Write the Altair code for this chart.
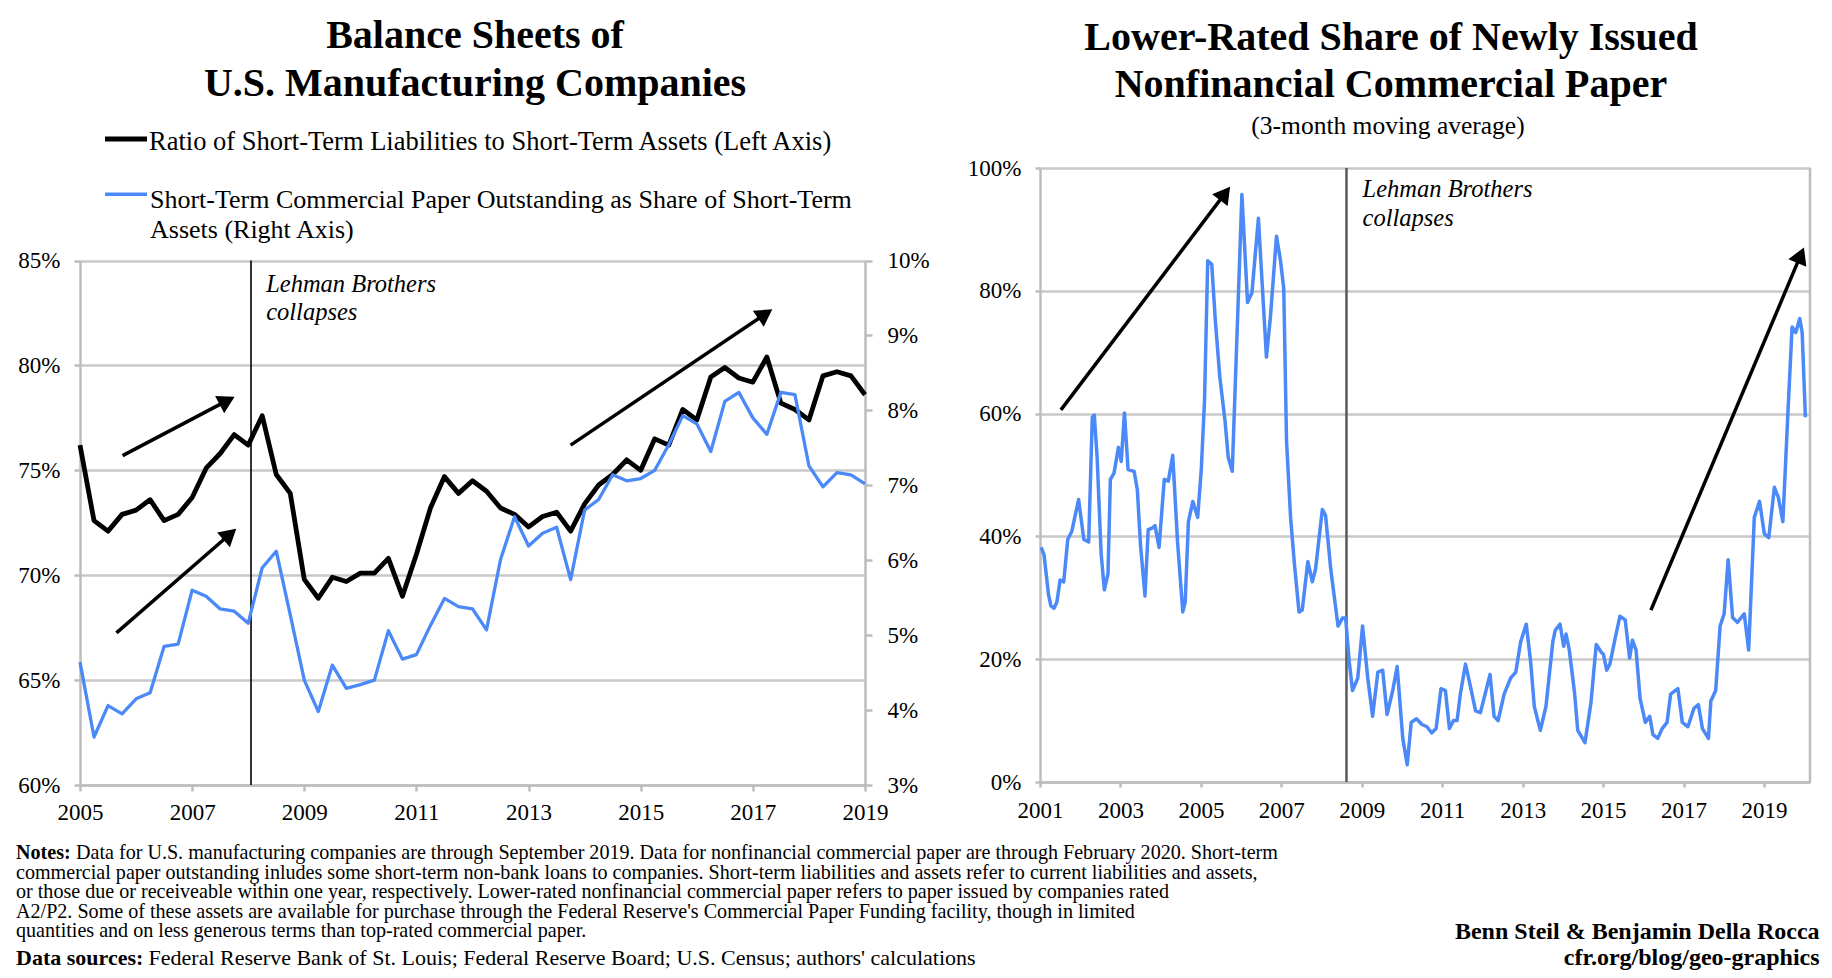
import math
import altair as alt
import pandas as pd

FONT = "Liberation Serif"
BLUE = "#4A89F7"
GRAY = "#bdbdbd"
GRID = "#c8c8c8"

# ---------------- Left panel data (quarterly) ----------------
quarters = [2005.00, 2005.25, 2005.50, 2005.75, 2006.00, 2006.25, 2006.50, 2006.75,
            2007.00, 2007.25, 2007.50, 2007.75, 2008.00, 2008.25, 2008.50, 2008.75,
            2009.00, 2009.25, 2009.50, 2009.75, 2010.00, 2010.25, 2010.50, 2010.75,
            2011.00, 2011.25, 2011.50, 2011.75, 2012.00, 2012.25, 2012.50, 2012.75,
            2013.00, 2013.25, 2013.50, 2013.75, 2014.00, 2014.25, 2014.50, 2014.75,
            2015.00, 2015.25, 2015.50, 2015.75, 2016.00, 2016.25, 2016.50, 2016.75,
            2017.00, 2017.25, 2017.50, 2017.75, 2018.00, 2018.25, 2018.50, 2018.75,
            2019.00]
liab_ratio = [76.2, 72.6, 72.1, 72.9, 73.1, 73.6, 72.6, 72.9, 73.7, 75.1,
              75.8, 76.7, 76.2, 77.6, 74.8, 73.9, 69.8, 68.9, 69.9, 69.7,
              70.1, 70.1, 70.8, 69.0, 71.0, 73.2, 74.7, 73.9, 74.5, 74.0,
              73.2, 72.9, 72.3, 72.8, 73.0, 72.1, 73.4, 74.3, 74.8, 75.5,
              75.0, 76.5, 76.2, 77.9, 77.4, 79.45, 79.9, 79.4, 79.2, 80.4,
              78.2, 77.9, 77.4, 79.5, 79.7, 79.5, 78.6]
cp_share = [4.64, 3.64, 4.06, 3.95, 4.15, 4.23, 4.85, 4.88, 5.60, 5.52,
            5.35, 5.32, 5.16, 5.90, 6.12, 5.27, 4.40, 3.98, 4.60, 4.29,
            4.34, 4.40, 5.06, 4.68, 4.74, 5.13, 5.49, 5.38, 5.35, 5.07,
            6.01, 6.58, 6.19, 6.36, 6.44, 5.74, 6.67, 6.81, 7.14, 7.06,
            7.09, 7.20, 7.54, 7.93, 7.82, 7.45, 8.12, 8.24, 7.90, 7.68,
            8.24, 8.21, 7.26, 6.98, 7.17, 7.14, 7.02]

# ---------------- Right panel data (3-month moving average) ----------------
lr_dates = [2001.03, 2001.10, 2001.21, 2001.27, 2001.35, 2001.42, 2001.50, 2001.59, 2001.69, 2001.79,
            2001.96, 2002.09, 2002.21, 2002.30, 2002.35, 2002.42, 2002.52, 2002.60, 2002.69, 2002.75,
            2002.84, 2002.90, 2002.95, 2003.02, 2003.10, 2003.19, 2003.34, 2003.42, 2003.50, 2003.61,
            2003.69, 2003.80, 2003.86, 2003.96, 2004.09, 2004.19, 2004.30, 2004.42, 2004.55, 2004.61,
            2004.69, 2004.80, 2004.92, 2005.01, 2005.09, 2005.17, 2005.27, 2005.36, 2005.47, 2005.60,
            2005.68, 2005.78, 2006.02, 2006.16, 2006.27, 2006.43, 2006.63, 2006.73, 2006.88, 2006.98,
            2007.06, 2007.13, 2007.23, 2007.33, 2007.44, 2007.52, 2007.66, 2007.77, 2007.85, 2008.02,
            2008.10, 2008.23, 2008.41, 2008.52, 2008.60, 2008.69, 2008.77, 2008.90, 2009.02, 2009.15,
            2009.27, 2009.40, 2009.52, 2009.63, 2009.77, 2009.88, 2010.02, 2010.13, 2010.23, 2010.36,
            2010.49, 2010.62, 2010.74, 2010.85, 2010.97, 2011.08, 2011.18, 2011.28, 2011.37, 2011.45,
            2011.58, 2011.70, 2011.83, 2011.95, 2012.19, 2012.29, 2012.39, 2012.54, 2012.70, 2012.83,
            2012.95, 2013.09, 2013.20, 2013.29, 2013.44, 2013.58, 2013.75, 2013.81, 2013.93, 2014.02,
            2014.08, 2014.16, 2014.29, 2014.37, 2014.55, 2014.70, 2014.83, 2014.96, 2015.01, 2015.09,
            2015.17, 2015.30, 2015.42, 2015.55, 2015.66, 2015.73, 2015.82, 2015.92, 2016.05, 2016.16,
            2016.24, 2016.36, 2016.47, 2016.59, 2016.68, 2016.86, 2016.97, 2017.11, 2017.26, 2017.37,
            2017.47, 2017.62, 2017.68, 2017.80, 2017.91, 2018.01, 2018.11, 2018.22, 2018.34, 2018.51,
            2018.62, 2018.76, 2018.89, 2019.01, 2019.12, 2019.26, 2019.36, 2019.47, 2019.60, 2019.70,
            2019.79, 2019.89, 2019.95, 2020.03]
lr_share = [38.2, 37.0, 30.6, 28.7, 28.3, 29.3, 32.9, 32.6, 39.5, 40.8,
            46.0, 39.5, 39.1, 59.4, 59.75, 52.9, 37.2, 31.3, 33.9, 49.3,
            50.3, 52.6, 54.5, 52.2, 60.1, 50.9, 50.6, 47.6, 38.5, 30.3,
            41.1, 41.4, 41.75, 38.2, 49.3, 49.0, 53.2, 39.1, 27.7, 29.3,
            42.4, 45.7, 43.1, 50.9, 62.0, 84.9, 84.3, 75.1, 66.0, 58.8,
            52.9, 50.6, 95.7, 78.1, 79.7, 91.8, 69.2, 75.8, 88.9, 84.9,
            80.4, 55.5, 43.1, 35.2, 27.7, 28.0, 35.9, 32.6, 34.6, 44.4,
            43.4, 34.6, 25.4, 26.7, 26.7, 19.5, 14.9, 16.9, 25.4, 16.9,
            10.7, 17.9, 18.2, 11.0, 14.9, 18.8, 7.1, 2.8, 9.7, 10.3,
            9.4, 9.0, 8.0, 8.7, 15.2, 14.9, 8.7, 10.0, 10.0, 14.3,
            19.2, 15.6, 11.6, 11.3, 17.5, 10.7, 10.0, 14.3, 16.9, 17.9,
            22.8, 25.7, 19.5, 12.3, 8.4, 12.3, 22.8, 24.7, 25.7, 22.1,
            24.1, 21.5, 14.6, 8.4, 6.4, 13.0, 22.4, 21.1, 20.8, 18.2,
            19.2, 23.4, 27.0, 26.4, 20.2, 23.1, 21.5, 13.6, 9.7, 10.7,
            7.7, 7.1, 8.7, 9.7, 14.3, 15.2, 9.7, 9.0, 12.0, 12.6,
            8.7, 7.1, 13.2, 14.9, 25.4, 27.4, 36.2, 26.8, 26.0, 27.4,
            21.5, 43.1, 45.7, 40.4, 39.8, 48.0, 46.3, 42.4, 60.7, 74.1,
            73.2, 75.5, 73.2, 59.4]

left_years_ticks = [2005, 2007, 2009, 2011, 2013, 2015, 2017, 2019]
right_years_ticks = [2001, 2003, 2005, 2007, 2009, 2011, 2013, 2015, 2017, 2019]
left_pct_ticks = [60, 65, 70, 75, 80, 85]
right_pct_ticks = [3, 4, 5, 6, 7, 8, 9, 10]
lr_pct_ticks = [0, 20, 40, 60, 80, 100]

lehman_left = 2008.05
lehman_right = 2008.62

# arrows: start (year, value) -> tip (year, value)
left_arrows = [((2005.76, 75.7), (2007.75, 78.5)),
               ((2005.65, 67.25), (2007.78, 72.2)),
               ((2013.75, 76.2), (2017.34, 82.66))]
right_arrows = [((2001.52, 60.6), (2005.72, 96.9)),
                ((2016.19, 28.0), (2019.99, 87.0))]

notes_lines = [
    "Data for U.S. manufacturing companies are through September 2019. Data for nonfinancial commercial paper are through February 2020. Short-term",
    "commercial paper outstanding inludes some short-term non-bank loans to companies. Short-term liabilities and assets refer to current liabilities and assets,",
    "or those due or receiveable within one year, respectively. Lower-rated nonfinancial commercial paper refers to paper issued by companies rated",
    "A2/P2. Some of these assets are available for purchase through the Federal Reserve's Commercial Paper Funding facility, though in limited",
    "quantities and on less generous terms than top-rated commercial paper.",
]
sources_line = "Federal Reserve Bank of St. Louis; Federal Reserve Board; U.S. Census; authors' calculations"

# ---------------- geometry ----------------
LW, LH = 785, 617
L_TOP = 92.5
RW, RH = 770, 614
L_DOM = [2005, 2019]
R_DOM = [2001, 2020.145]

one = pd.DataFrame({"k": [0]})


def txt(s, x, y, size, weight="normal", style="normal", align="left"):
    return alt.Chart(one).mark_text(
        text=s, font=FONT, fontSize=size, fontWeight=weight, fontStyle=style,
        align=align, baseline="middle", color="black"
    ).encode(x=alt.value(x), y=alt.value(y))


def arrow_frames(arrows, ppx, ppy, vname):
    rows, heads = [], []
    for (x0, y0), (x1, y1) in arrows:
        dxp = (x1 - x0) * ppx
        dyp = (y1 - y0) * ppy
        ln = math.hypot(dxp, dyp)
        ang = math.degrees(math.atan2(dxp, dyp)) % 360
        back = 8.0
        hx = x1 - back * dxp / ln / ppx
        hy = y1 - back * dyp / ln / ppy
        rows.append({"t": x0, vname: y0, "t2": hx, vname + "2": hy})
        heads.append({"t": hx, vname: hy, "ang": ang})
    return pd.DataFrame(rows), pd.DataFrame(heads)


def arrows_layer(arrows, ppx, ppy, vname, xs, ys):
    rdf, hdf = arrow_frames(arrows, ppx, ppy, vname)
    shafts = alt.Chart(rdf).mark_rule(color="black", strokeWidth=3.5).encode(
        x=alt.X("t:Q", scale=xs), x2="t2:Q",
        y=alt.Y(f"{vname}:Q", scale=ys), y2=f"{vname}2:Q")
    heads = alt.Chart(hdf).mark_point(shape="triangle-up", filled=True, color="black",
                                      opacity=1, size=380, strokeWidth=0).encode(
        x=alt.X("t:Q", scale=xs), y=alt.Y(f"{vname}:Q", scale=ys),
        angle=alt.Angle("ang:Q", scale=None))
    return [shafts, heads]


def italic(s, x, y):
    return alt.Chart(one).mark_text(text=s, font=FONT, fontSize=24.5, fontStyle="italic",
                                    align="left", baseline="middle", color="black").encode(
        x=alt.datum(x), y=alt.datum(y))


# ---------------- Left panel ----------------
left_df = pd.DataFrame({"t": quarters, "ratio": liab_ratio, "cp": cp_share})

xs_l = alt.Scale(domain=L_DOM, nice=False, zero=False)
ys_l = alt.Scale(domain=[60, 85], range=[LH, L_TOP], nice=False, zero=False)
ys_r = alt.Scale(domain=[3, 10], range=[LH, L_TOP], nice=False, zero=False)

x_left = alt.X("t:Q", scale=xs_l,
               axis=alt.Axis(values=left_years_ticks, format="d", title=None, grid=False,
                             tickSize=6, labelPadding=10))

black_line = alt.Chart(left_df).mark_line(color="black", strokeWidth=4.8, strokeJoin="round").encode(
    x=x_left,
    y=alt.Y("ratio:Q", scale=ys_l,
            axis=alt.Axis(values=left_pct_ticks, labelExpr="datum.value + '%'", title=None,
                          grid=True, tickSize=6, labelPadding=14, orient="left")))

lehman_l = alt.Chart(one).mark_rule(color="black", strokeWidth=1.6).encode(
    x=alt.datum(lehman_left), y=alt.datum(60), y2=alt.datum(85))

ppx_l = LW / (L_DOM[1] - L_DOM[0])
ppy_l = (LH - L_TOP) / 25.0
left_arrow_layers = arrows_layer(left_arrows, ppx_l, ppy_l, "ratio", xs_l, ys_l)

left_inner = alt.layer(lehman_l, black_line,
                       italic("Lehman Brothers", 2008.32, 83.83),
                       italic("collapses", 2008.32, 82.5),
                       *left_arrow_layers)

blue_line = alt.Chart(left_df).mark_line(color=BLUE, strokeWidth=3.3, strokeJoin="round").encode(
    x=x_left,
    y=alt.Y("cp:Q", scale=ys_r,
            axis=alt.Axis(values=right_pct_ticks, labelExpr="datum.value + '%'", title=None,
                          grid=False, tickSize=7, labelPadding=15, orient="right")))

# texts / legend / notes positioned relative to the left plot
anchor = alt.Chart(one).mark_rule(strokeOpacity=0, color="white").encode(
    x=alt.value(-72), x2=alt.value(-72), y=alt.value(-160), y2=alt.value(-150))

left_title1 = txt("Balance Sheets of", 395, -132, 40, weight="bold", align="center")
left_title2 = txt("U.S. Manufacturing Companies", 395, -84, 40, weight="bold", align="center")

leg_black = alt.Chart(one).mark_rule(color="black", strokeWidth=5).encode(
    x=alt.value(25), x2=alt.value(67), y=alt.value(-29))
leg_black_t = txt("Ratio of Short-Term Liabilities to Short-Term Assets (Left Axis)", 69, -26.5, 26.5)
leg_blue = alt.Chart(one).mark_rule(color=BLUE, strokeWidth=3.5).encode(
    x=alt.value(25), x2=alt.value(67), y=alt.value(26.3))
leg_blue_t1 = txt("Short-Term Commercial Paper Outstanding as Share of Short-Term", 70, 32, 26)
leg_blue_t2 = txt("Assets (Right Axis)", 70, 62, 26)

NOTE_FS = 20.1
SRC_FS = 22
note_ys = [685, 704.5, 724, 743.5, 763]
notes = [txt("Notes:", -64, note_ys[0], NOTE_FS, weight="bold"),
         txt(notes_lines[0], -4, note_ys[0], NOTE_FS)]
for i in range(1, 5):
    notes.append(txt(notes_lines[i], -64, note_ys[i], NOTE_FS))
notes.append(txt("Data sources:", -64, 790, SRC_FS, weight="bold"))
notes.append(txt(sources_line, 68.6, 790, SRC_FS))

left_chart = alt.layer(
    left_inner, blue_line,
    anchor, left_title1, left_title2,
    leg_black, leg_black_t, leg_blue, leg_blue_t1, leg_blue_t2,
    *notes
).resolve_scale(y="independent").properties(width=LW, height=LH)

# ---------------- Right panel ----------------
right_df = pd.DataFrame({"t": lr_dates, "share": lr_share})
xs_rr = alt.Scale(domain=R_DOM, nice=False, zero=False)
ys_rr = alt.Scale(domain=[0, 100], nice=False, zero=False)

lr_line = alt.Chart(right_df).mark_line(color=BLUE, strokeWidth=3.5, strokeJoin="round").encode(
    x=alt.X("t:Q", scale=xs_rr,
            axis=alt.Axis(values=right_years_ticks, format="d", title=None, grid=False,
                          tickSize=5, labelPadding=12)),
    y=alt.Y("share:Q", scale=ys_rr,
            axis=alt.Axis(values=lr_pct_ticks, labelExpr="datum.value + '%'", title=None,
                          grid=True, tickSize=5, labelPadding=14)))

lehman_r = alt.Chart(one).mark_rule(color="#5a5a5a", strokeWidth=2.5).encode(
    x=alt.datum(lehman_right), y=alt.datum(0), y2=alt.datum(100))
border_r = alt.Chart(one).mark_rule(color=GRAY, strokeWidth=2.5).encode(
    x=alt.datum(R_DOM[1]), y=alt.datum(0), y2=alt.datum(100))

ppx_r = RW / (R_DOM[1] - R_DOM[0])
ppy_r = RH / 100.0
right_arrow_layers = arrows_layer(right_arrows, ppx_r, ppy_r, "share", xs_rr, ys_rr)

right_title1 = txt("Lower-Rated Share of Newly Issued", 351, -130, 40, weight="bold", align="center")
right_title2 = txt("Nonfinancial Commercial Paper", 351, -83, 40, weight="bold", align="center")
right_sub = txt("(3-month moving average)", 348, -42, 25.5, align="center")
credit1 = txt("Benn Steil & Benjamin Della Rocca", 779.6, 763.5, 24, weight="bold", align="right")
credit2 = txt("cfr.org/blog/geo-graphics", 779.6, 790, 24, weight="bold", align="right")

right_chart = alt.layer(
    border_r, lehman_r, lr_line,
    italic("Lehman Brothers", 2009.02, 96.4),
    italic("collapses", 2009.02, 91.7),
    *right_arrow_layers,
    right_title1, right_title2, right_sub, credit1, credit2
).properties(width=RW, height=RH)

chart = alt.hconcat(left_chart, right_chart, spacing=175, bounds="flush").properties(
    padding=0, background="white"
).configure_view(strokeWidth=0).configure_axis(
    labelFont=FONT, labelFontSize=23, labelColor="black",
    domainColor=GRAY, domainWidth=2.5, tickColor=GRAY, tickWidth=2.5,
    gridColor=GRID, gridWidth=2.5, labelFlush=False, labelOverlap=False
)

chart.save("out.html", embed_options={"renderer": "svg", "actions": False})
